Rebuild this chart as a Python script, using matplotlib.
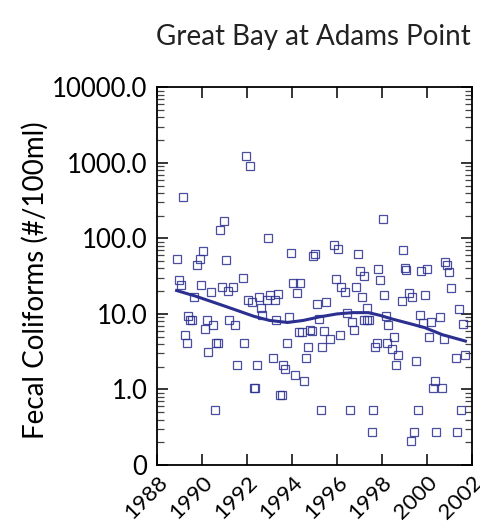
import matplotlib
matplotlib.use("Agg")
import matplotlib.pyplot as plt
from matplotlib.ticker import LogLocator, NullFormatter, FixedLocator

plt.rcParams['font.family'] = ['Lato', 'DejaVu Sans']

# ---- data
years = [
    1991.94, 1992.12, 1989.13, 1990.98, 1990.79, 1992.95, 1995.85, 1996.03, 1998.03, 1988.89,
    1990.04, 1989.90, 1989.79, 1991.05, 1993.94, 1994.95, 1995.02, 1996.95, 1998.93, 2000.83,
    2000.89, 1988.95, 1989.04, 1989.96, 1990.37, 1989.63, 1990.88, 1991.14, 1991.38, 1991.80,
    1992.03, 1992.21, 1992.53, 1992.89, 1993.04, 1993.22, 1993.36, 1992.62, 1992.68, 1993.27,
    1993.87, 1994.04, 1994.37, 1994.20, 1995.11, 1995.53, 1995.94, 1996.18, 1996.36, 1996.86,
    1997.01, 1997.19, 1997.10, 1997.84, 1997.93, 1998.11, 1999.02, 1999.08, 1999.20, 1998.88,
    1999.35, 1999.76, 2000.03, 1999.94, 2001.01, 2001.10, 2001.42, 1996.44, 1997.36, 1998.20,
    1999.71, 2000.60, 2000.21, 1999.85, 2001.60, 1989.36, 1989.46, 1989.55, 1990.22, 1991.20,
    1991.47, 1990.46, 1995.20, 1996.68, 1997.22, 1997.32, 1997.42, 1998.28, 1990.13, 1989.22,
    1989.31, 1990.61, 1990.70, 1990.28, 1991.88, 1991.53, 1992.44, 1993.13, 1993.60, 1993.69,
    1994.11, 1994.52, 1993.78, 1994.31, 1994.46, 1994.79, 1994.90, 1995.44, 1994.70, 1994.61,
    1995.35, 1995.70, 1996.12, 1996.77, 1997.69, 1997.78, 1998.25, 1998.43, 1998.52, 1998.70,
    1998.61, 1999.53, 2000.12, 2000.77, 2001.28, 2001.69, 2000.36, 2000.27, 2000.68, 1992.30,
    1992.36, 1993.45, 1993.54, 1990.55, 1995.28, 1996.60, 1997.60, 1999.62, 2001.51, 1997.54,
    1999.44, 2000.42, 2001.36, 1999.28,
]
coliforms = [
    1250, 900, 350, 170, 130, 100, 82, 73, 180, 53,
    68, 53, 44, 51, 65, 59, 62, 63, 71, 48,
    45, 28, 24, 24, 19.5, 17, 23, 20, 23, 30,
    15.5, 14.5, 16.5, 15.5, 18, 15.5, 18.5, 12, 9.7, 8.2,
    9.0, 26, 26, 19, 13.4, 14.4, 29, 23, 19.6, 23,
    37, 32, 17, 39, 28, 18, 40, 38, 19, 15,
    17, 37, 39, 18, 36, 22, 11.7, 10.3, 11.9, 9.4,
    9.8, 9.0, 7.7, 7.5, 7.3, 9.3, 8.2, 8.2, 8.2, 8.2,
    7.2, 7.2, 8.5, 7.7, 8.3, 8.3, 8.3, 7.2, 6.3, 5.2,
    4.15, 4.15, 4.15, 3.1, 4.15, 2.1, 2.1, 2.6, 2.1, 1.87,
    1.56, 1.3, 4.15, 5.7, 5.7, 6.2, 5.9, 6.0, 3.6, 2.6,
    3.6, 4.7, 5.2, 6.2, 3.7, 4.15, 4.15, 3.4, 4.9, 2.85,
    2.1, 2.36, 4.9, 4.7, 2.6, 2.85, 1.3, 1.05, 1.05, 1.05,
    1.05, 0.84, 0.84, 0.53, 0.53, 0.53, 0.53, 0.53, 0.53, 0.27,
    0.27, 0.27, 0.27, 0.21,
]

# smoothed trend line
trend_years = [1988.86, 1989.7, 1990.9, 1991.6, 1992.3, 1993.0, 1993.8, 1994.5, 1995.2,
               1996.0, 1996.7, 1997.4, 1997.9, 1998.5, 1999.2, 1999.9, 2000.7, 2001.72]
trend_vals = [20.4, 17.2, 13.0, 11.0, 9.3, 8.2, 7.7, 8.2, 9.1,
              10.0, 10.4, 10.4, 9.6, 8.5, 7.5, 6.6, 5.3, 4.37]

ytick_vals = [0.1, 1, 10, 100, 1000, 10000]
ytick_labels = ["0", "1.0", "10.0", "100.0", "1000.0", "10000.0"]
xtick_vals = [1988, 1990, 1992, 1994, 1996, 1998, 2000, 2002]

NAVY = "#2b2f8f"

fig = plt.figure(figsize=(4.8, 5.24), dpi=100)
ax = fig.add_axes([0.3277, 0.1126, 0.655, 0.7208])

ax.plot(years, coliforms, ls="none", marker="s", ms=5.8, mfc="none",
        mec=NAVY, mew=0.9, alpha=0.85)
ax.plot(trend_years, trend_vals, color=NAVY, lw=2.2)

ax.set_yscale("log")
ax.set_ylim(0.1, 10000)
ax.set_xlim(1988, 2002)
ax.yaxis.set_major_locator(FixedLocator(ytick_vals))
ax.set_yticklabels(ytick_labels)
ax.yaxis.set_minor_locator(LogLocator(base=10, subs=range(2, 10)))
ax.yaxis.set_minor_formatter(NullFormatter())
ax.set_xticks(xtick_vals)
ax.set_xticklabels([str(y) for y in xtick_vals], rotation=45,
                   ha="right", va="top", rotation_mode="anchor", fontsize=16)

ax.tick_params(axis="both", which="major", direction="in", length=8, width=1.1,
               top=True, right=True)
ax.tick_params(axis="y", which="major", labelsize=18.5, pad=7)
ax.tick_params(axis="y", which="minor", direction="in", length=5, width=0.9,
               left=True, right=True, color="#444444")
ax.tick_params(axis="x", which="major", pad=5)
for s in ax.spines.values():
    s.set_linewidth(1.3)

ax.set_ylabel("Fecal Coliforms (#/100ml)", fontsize=20, va="center")
ax.yaxis.set_label_coords(-0.389, 0.49)
fig.text(0.652, 0.93, "Great Bay at Adams Point", ha="center", va="center",
         fontsize=20, color="#222222")

fig.savefig("out.png", dpi=100)
